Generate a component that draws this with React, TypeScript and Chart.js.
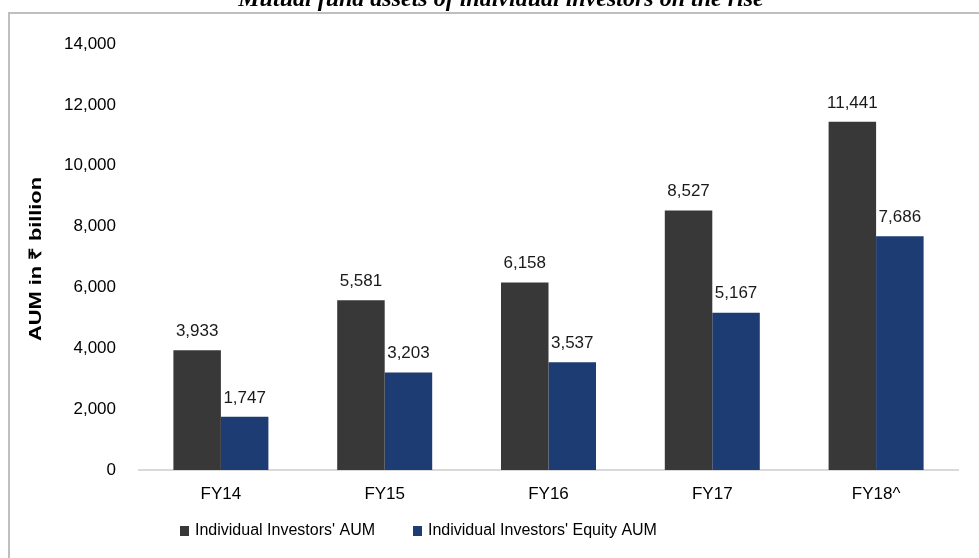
import React, { useEffect, useRef } from "react";
import { Chart, registerables } from "chart.js";

Chart.register(...registerables);

const categories = ["FY14", "FY15", "FY16", "FY17", "FY18^"];
const totalAUM = [3933, 5581, 6158, 8527, 11441];
const equityAUM = [1747, 3203, 3537, 5167, 7686];
const seriesNames = ["Individual Investors' AUM", "Individual Investors' Equity AUM"];
const seriesColors = ["#383838", "#1d3c73"];
const chartTitle = "Mutual fund assets of individual investors on the rise";
const yAxisTitle = "AUM in ₹ billion";
const yMin = 0;
const yMax = 14000;
const yStep = 2000;

const SANS = "'Liberation Sans', Arial, sans-serif";
const SERIF = "'Liberation Serif', 'Times New Roman', serif";
const fmt = (v: number) => v.toLocaleString("en-US");

const decorPlugin = {
  id: "decor",
  beforeDraw(chart: any) {
    const ctx = chart.ctx;
    ctx.save();
    ctx.fillStyle = "#ffffff";
    ctx.fillRect(0, 0, chart.width, chart.height);
    // frame
    ctx.strokeStyle = "#bfbfbf";
    ctx.lineWidth = 2;
    ctx.beginPath();
    ctx.moveTo(9, chart.height + 5);
    ctx.lineTo(9, 13);
    ctx.lineTo(chart.width + 5, 13);
    ctx.stroke();
    ctx.restore();
  },
  afterDraw(chart: any) {
    const ctx = chart.ctx;
    const area = chart.chartArea;
    ctx.save();
    // title (partially cut at top)
    ctx.fillStyle = "#000000";
    ctx.font = `italic bold 24px ${SERIF}`;
    ctx.textAlign = "center";
    ctx.textBaseline = "alphabetic";
    ctx.fillText(chartTitle, 501, 6);

    // y axis title
    ctx.save();
    ctx.translate(36, (area.top + area.bottom) / 2 + 2);
    ctx.rotate(-Math.PI / 2);
    ctx.scale(1.28, 1);
    ctx.font = `bold 17px ${SANS}`;
    ctx.textAlign = "center";
    ctx.textBaseline = "middle";
    ctx.fillStyle = "#000000";
    ctx.fillText(yAxisTitle, 0, 0);
    ctx.restore();

    // legend
    ctx.font = `16px ${SANS}`;
    ctx.textAlign = "left";
    ctx.textBaseline = "middle";
    let x = 180;
    const ly = 531;
    chart.data.datasets.forEach((ds: any) => {
      ctx.fillStyle = ds.backgroundColor;
      ctx.fillRect(x, ly - 5, 9, 10);
      ctx.fillStyle = "#000000";
      ctx.fillText(ds.label, x + 15, ly);
      x += 15 + ctx.measureText(ds.label).width + 38;
    });
    ctx.restore();
  },
  afterDatasetsDraw(chart: any) {
    const ctx = chart.ctx;
    ctx.save();
    ctx.font = `17px ${SANS}`;
    ctx.fillStyle = "#1a1a1a";
    ctx.textAlign = "center";
    ctx.textBaseline = "middle";
    chart.data.datasets.forEach((ds: any, i: number) => {
      const meta = chart.getDatasetMeta(i);
      meta.data.forEach((el: any, j: number) => {
        ctx.fillText(fmt(ds.data[j]), el.x, el.y - 19);
      });
    });
    ctx.restore();
  },
};

export default function App() {
  const ref = useRef<HTMLCanvasElement | null>(null);

  useEffect(() => {
    if (!ref.current) return;
    const chart = new Chart(ref.current, {
      type: "bar",
      data: {
        labels: categories,
        datasets: [
          {
            label: seriesNames[0],
            data: totalAUM,
            backgroundColor: seriesColors[0],
            borderWidth: 0,
            categoryPercentage: 0.58,
            barPercentage: 1,
          },
          {
            label: seriesNames[1],
            data: equityAUM,
            backgroundColor: seriesColors[1],
            borderWidth: 0,
            categoryPercentage: 0.58,
            barPercentage: 1,
          },
        ],
      },
      options: {
        responsive: false,
        animation: false,
        layout: { padding: { left: 0, right: 21, top: 44, bottom: 0 } },
        plugins: {
          legend: { display: false },
          title: { display: false },
          tooltip: { enabled: false },
        },
        scales: {
          x: {
            grid: { display: false, drawTicks: false },
            border: { display: true, color: "#d9d9d9", width: 2 },
            ticks: {
              padding: 14,
              color: "#000000",
              font: { family: SANS, size: 17 },
            },
            afterFit: (s: any) => {
              s.height = 88;
            },
          },
          y: {
            min: yMin,
            max: yMax,
            grid: { display: false, drawTicks: false },
            border: { display: false },
            ticks: {
              stepSize: yStep,
              padding: 23,
              color: "#000000",
              font: { family: SANS, size: 17 },
              callback: (v: any) => fmt(Number(v)),
            },
            afterFit: (s: any) => {
              s.width = 139;
            },
          },
        },
      },
      plugins: [decorPlugin],
    });
    return () => chart.destroy();
  }, []);

  return (
    <div style={{ position: "fixed", left: 0, top: 0, width: 979, height: 558, background: "#fff" }}>
      <canvas ref={ref} width={979} height={558} style={{ display: "block" }} />
    </div>
  );
}
